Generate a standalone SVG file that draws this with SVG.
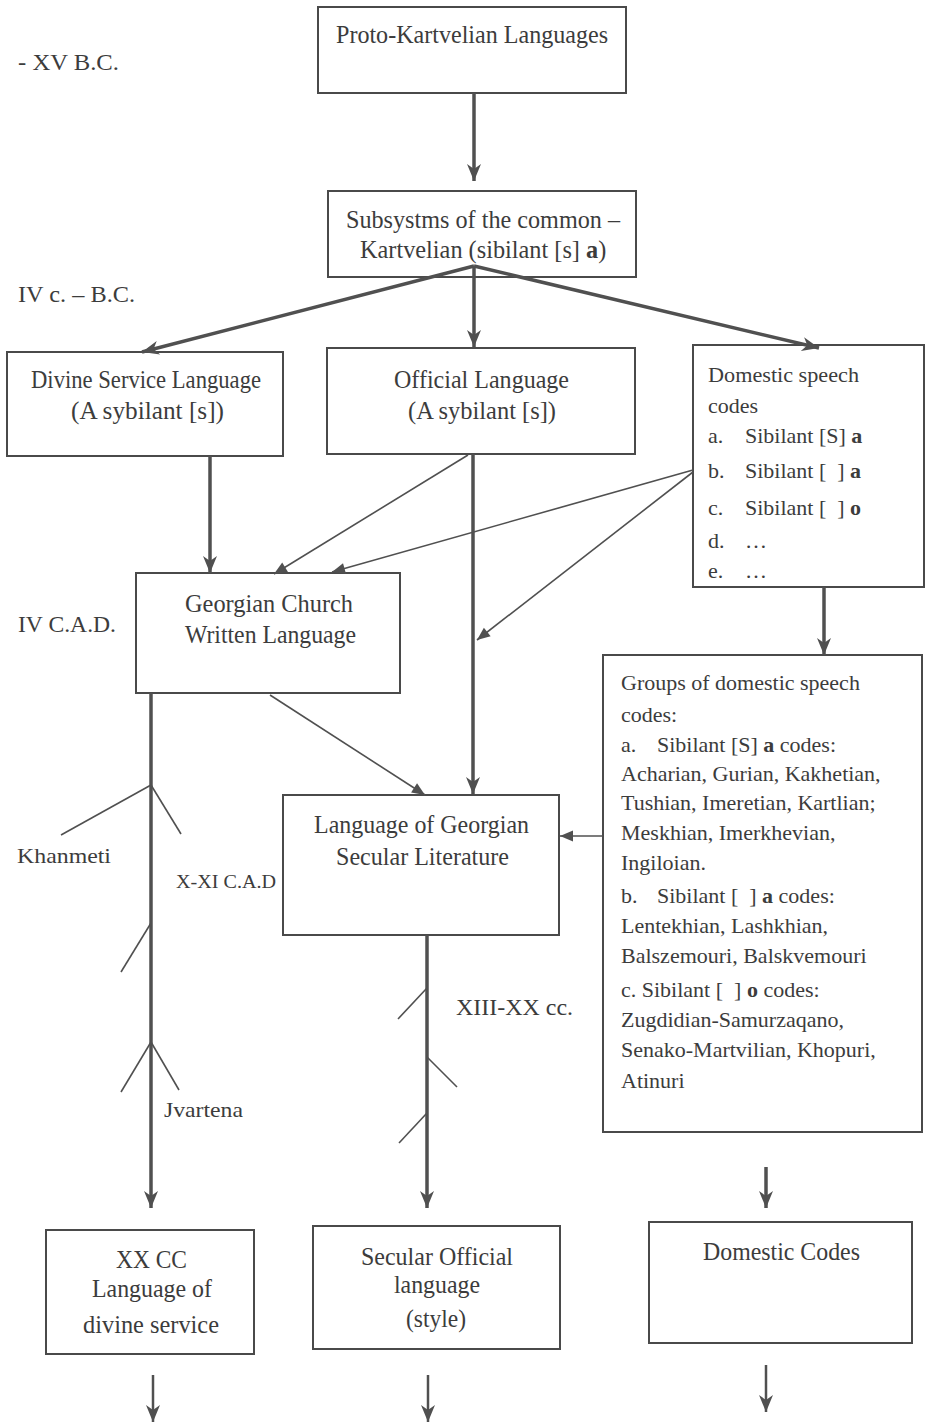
<svg xmlns="http://www.w3.org/2000/svg" width="927" height="1424" viewBox="0 0 927 1424">
<style>
  .box { fill: #ffffff; stroke: #4a4a4a; stroke-width: 2; }
  text { font-family: "Liberation Serif", "Times New Roman", serif; fill: #3c3c3c; }
  .t25 { font-size: 25px; }
  .t24 { font-size: 24px; }
  .t22 { font-size: 22px; }
  .t19 { font-size: 19px; }
  .b { font-weight: bold; }
  .heavy { stroke: #505050; stroke-width: 3.5; fill: none; }
  .mid { stroke: #505050; stroke-width: 2.5; fill: none; }
  .thin { stroke: #505050; stroke-width: 1.6; fill: none; }
</style>
<defs>
  <marker id="ah" viewBox="-18 -8 19 16" markerWidth="19" markerHeight="16" refX="0" refY="0" orient="auto" markerUnits="userSpaceOnUse">
    <path d="M-17,-7 L0,0 L-17,7 L-12,0 Z" fill="#505050"/>
  </marker>
  <marker id="at" viewBox="-14 -6 15 12" markerWidth="15" markerHeight="12" refX="0" refY="0" orient="auto" markerUnits="userSpaceOnUse">
    <path d="M-13,-5.5 L0,0 L-13,5.5 Z" fill="#505050"/>
  </marker>
</defs>
<rect width="927" height="1424" fill="#ffffff"/>

<g id="time-labels">
  <text class="t24" x="18" y="70" textLength="101" lengthAdjust="spacingAndGlyphs">- XV B.C.</text>
  <text class="t24" x="18" y="302" textLength="117" lengthAdjust="spacingAndGlyphs">IV c. – B.C.</text>
  <text class="t24" x="18" y="632" textLength="98" lengthAdjust="spacingAndGlyphs">IV C.A.D.</text>
</g>

<g id="proto-kartvelian">
  <rect class="box" x="318" y="7" width="308" height="86"/>
  <text class="t25" x="336" y="43" textLength="272" lengthAdjust="spacingAndGlyphs">Proto-Kartvelian Languages</text>
</g>

<g id="subsystems">
  <rect class="box" x="328" y="191" width="308" height="86"/>
  <text class="t25" x="346" y="228" textLength="274" lengthAdjust="spacingAndGlyphs">Subsystms of the common –</text>
  <text x="360" y="258" style="font-size:24.3px">Kartvelian (sibilant [s] <tspan class="b">a</tspan>)</text>
</g>

<g id="divine-service">
  <rect class="box" x="7" y="352" width="276" height="104"/>
  <text class="t25" x="31" y="388" textLength="230" lengthAdjust="spacingAndGlyphs">Divine Service Language</text>
  <text class="t25" x="71" y="419" textLength="153" lengthAdjust="spacingAndGlyphs">(A sybilant [s])</text>
</g>

<g id="official">
  <rect class="box" x="327" y="348" width="308" height="106"/>
  <text class="t25" x="394" y="388" textLength="175" lengthAdjust="spacingAndGlyphs">Official Language</text>
  <text class="t25" x="408" y="419" textLength="148" lengthAdjust="spacingAndGlyphs">(A sybilant [s])</text>
</g>

<g id="domestic-speech">
  <rect class="box" x="693" y="345" width="231" height="242"/>
  <text class="t22" x="708" y="382" textLength="151" lengthAdjust="spacingAndGlyphs">Domestic speech</text>
  <text class="t22" x="708" y="413">codes</text>
  <text class="t22" y="443"><tspan x="708">a.</tspan><tspan x="745">Sibilant [S] </tspan><tspan class="b">a</tspan></text>
  <text class="t22" y="478"><tspan x="708">b.</tspan><tspan x="745">Sibilant [&#160;&#160;] </tspan><tspan class="b">a</tspan></text>
  <text class="t22" y="515"><tspan x="708">c.</tspan><tspan x="745">Sibilant [&#160;&#160;] </tspan><tspan class="b">o</tspan></text>
  <text class="t22" y="548"><tspan x="708">d.</tspan><tspan x="745">…</tspan></text>
  <text class="t22" y="578"><tspan x="708">e.</tspan><tspan x="745">…</tspan></text>
</g>

<g id="church-written">
  <rect class="box" x="136" y="573" width="264" height="120"/>
  <text class="t25" x="185" y="612" textLength="168" lengthAdjust="spacingAndGlyphs">Georgian Church</text>
  <text class="t25" x="185" y="643" textLength="171" lengthAdjust="spacingAndGlyphs">Written Language</text>
</g>

<g id="secular-literature">
  <rect class="box" x="283" y="795" width="276" height="140"/>
  <text class="t25" x="314" y="833" textLength="215" lengthAdjust="spacingAndGlyphs">Language of Georgian</text>
  <text class="t25" x="336" y="865" textLength="173" lengthAdjust="spacingAndGlyphs">Secular Literature</text>
</g>

<g id="groups-domestic">
  <rect class="box" x="603" y="655" width="319" height="477"/>
  <text class="t22" x="621" y="690">Groups of domestic speech</text>
  <text class="t22" x="621" y="722">codes:</text>
  <text class="t22" y="752"><tspan x="621">a.</tspan><tspan x="657">Sibilant [S] </tspan><tspan class="b">a</tspan><tspan> codes:</tspan></text>
  <text class="t22" x="621" y="781">Acharian, Gurian, Kakhetian,</text>
  <text class="t22" x="621" y="810">Tushian, Imeretian, Kartlian;</text>
  <text class="t22" x="621" y="840">Meskhian, Imerkhevian,</text>
  <text class="t22" x="621" y="870">Ingiloian.</text>
  <text class="t22" y="903"><tspan x="621">b.</tspan><tspan x="657">Sibilant [&#160;&#160;] </tspan><tspan class="b">a</tspan><tspan> codes:</tspan></text>
  <text class="t22" x="621" y="933">Lentekhian, Lashkhian,</text>
  <text class="t22" x="621" y="963">Balszemouri, Balskvemouri</text>
  <text class="t22" y="997"><tspan x="621">c. Sibilant [&#160;&#160;] </tspan><tspan class="b">o</tspan><tspan> codes:</tspan></text>
  <text class="t22" x="621" y="1027">Zugdidian-Samurzaqano,</text>
  <text class="t22" x="621" y="1057">Senako-Martvilian, Khopuri,</text>
  <text class="t22" x="621" y="1088">Atinuri</text>
</g>

<g id="xx-divine-service">
  <rect class="box" x="46" y="1230" width="208" height="124"/>
  <text class="t25" x="116" y="1268" textLength="71" lengthAdjust="spacingAndGlyphs">XX CC</text>
  <text class="t25" x="92" y="1297" textLength="120" lengthAdjust="spacingAndGlyphs">Language of</text>
  <text class="t25" x="83" y="1333" textLength="136" lengthAdjust="spacingAndGlyphs">divine service</text>
</g>

<g id="secular-official">
  <rect class="box" x="313" y="1226" width="247" height="123"/>
  <text class="t25" x="361" y="1265" textLength="152" lengthAdjust="spacingAndGlyphs">Secular Official</text>
  <text class="t25" x="394" y="1293" textLength="86" lengthAdjust="spacingAndGlyphs">language</text>
  <text class="t25" x="406" y="1327" textLength="60" lengthAdjust="spacingAndGlyphs">(style)</text>
</g>

<g id="domestic-codes">
  <rect class="box" x="649" y="1222" width="263" height="121"/>
  <text class="t25" x="703" y="1260" textLength="157" lengthAdjust="spacingAndGlyphs">Domestic Codes</text>
</g>

<g id="connectors">
  <line class="heavy" x1="474" y1="93" x2="474" y2="181" marker-end="url(#ah)"/>
  <line class="heavy" x1="474" y1="266" x2="142" y2="352" marker-end="url(#ah)"/>
  <line class="heavy" x1="474" y1="266" x2="474" y2="347" marker-end="url(#ah)"/>
  <line class="heavy" x1="474" y1="266" x2="819" y2="348" marker-end="url(#ah)"/>
  <line class="heavy" x1="210" y1="456" x2="210" y2="573" marker-end="url(#ah)"/>
  <line class="thin" x1="468" y1="455" x2="274" y2="574" marker-end="url(#at)"/>
  <line class="thin" x1="693" y1="470" x2="332" y2="572" marker-end="url(#at)"/>
  <line class="thin" x1="693" y1="472" x2="477" y2="640" marker-end="url(#at)"/>
  <line class="heavy" x1="473" y1="454" x2="473" y2="794" marker-end="url(#ah)"/>
  <line class="thin" x1="270" y1="695" x2="425" y2="795" marker-end="url(#at)"/>
  <line class="thin" x1="603" y1="836" x2="560" y2="836" marker-end="url(#at)"/>
  <line class="heavy" x1="824" y1="587" x2="824" y2="655" marker-end="url(#ah)"/>
  <line class="heavy" x1="151" y1="693" x2="151" y2="1208" marker-end="url(#ah)"/>
  <line class="heavy" x1="427" y1="935" x2="427" y2="1208" marker-end="url(#ah)"/>
  <line class="heavy" x1="766" y1="1167" x2="766" y2="1208" marker-end="url(#ah)"/>
  <line class="mid" x1="153" y1="1375" x2="153" y2="1422" marker-end="url(#ah)"/>
  <line class="mid" x1="428" y1="1375" x2="428" y2="1422" marker-end="url(#ah)"/>
  <line class="mid" x1="766" y1="1365" x2="766" y2="1412" marker-end="url(#ah)"/>
  <g id="branches">
    <line class="thin" x1="151" y1="785" x2="61" y2="835"/>
    <line class="thin" x1="151" y1="785" x2="181" y2="834"/>
    <line class="thin" x1="151" y1="923" x2="121" y2="972"/>
    <line class="thin" x1="151" y1="1042" x2="121" y2="1092"/>
    <line class="thin" x1="151" y1="1042" x2="179" y2="1090"/>
    <line class="thin" x1="427" y1="988" x2="398" y2="1019"/>
    <line class="thin" x1="427" y1="1057" x2="457" y2="1087"/>
    <line class="thin" x1="427" y1="1113" x2="399" y2="1143"/>
  </g>
  <g id="branch-labels">
    <text class="t22" x="17" y="863" textLength="94" lengthAdjust="spacingAndGlyphs">Khanmeti</text>
    <text class="t19" x="176" y="888" textLength="100" lengthAdjust="spacingAndGlyphs">X-XI C.A.D</text>
    <text class="t22" x="164" y="1117" textLength="79" lengthAdjust="spacingAndGlyphs">Jvartena</text>
    <text class="t24" x="456" y="1015" textLength="117" lengthAdjust="spacingAndGlyphs">XIII-XX cc.</text>
  </g>
</g>
</svg>
